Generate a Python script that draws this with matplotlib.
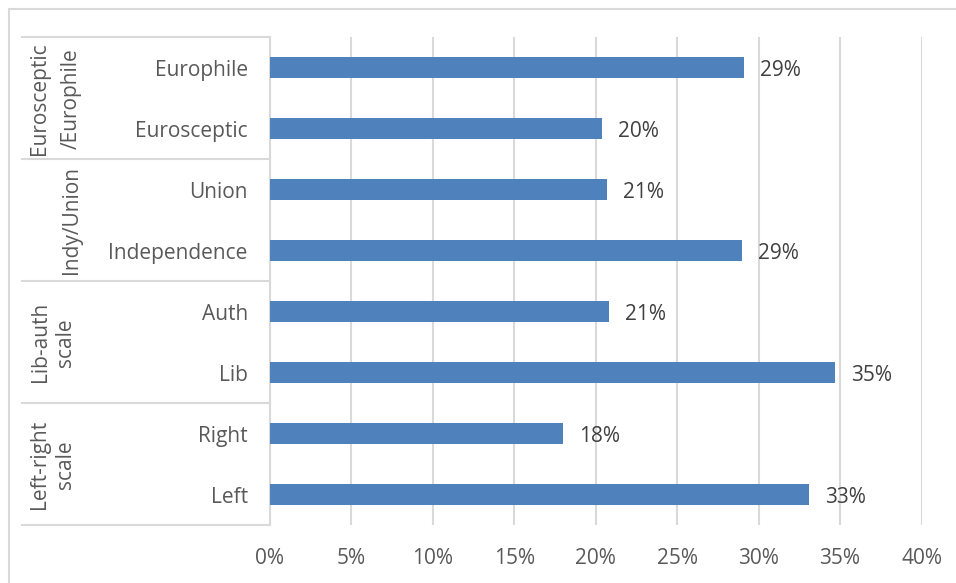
import matplotlib.pyplot as plt
from matplotlib.lines import Line2D

plt.rcParams['font.family'] = ['Open Sans', 'DejaVu Sans']

# Categories from bottom to top, with their group on the outer axis level
categories = ["Left", "Right", "Lib", "Auth", "Independence", "Union", "Eurosceptic", "Europhile"]
shares = [0.331, 0.180, 0.347, 0.208, 0.290, 0.207, 0.204, 0.291]
groups = [["Left-right", "scale"], ["Lib-auth", "scale"], ["Indy/Union"], ["Eurosceptic", "/Europhile"]]
x_ticks = [0, 0.05, 0.10, 0.15, 0.20, 0.25, 0.30, 0.35, 0.40]

W, H = 956, 583
bar_color = "#4F81BD"
grid_color = "#D9D9D9"
label_color = "#595959"
fs = 15

fig = plt.figure(figsize=(W / 100, H / 100), dpi=100)

# plot area in pixels: left, right, top, bottom
pl, pr, pt, pb = 270, 921.5, 37.3, 525.3
ax = fig.add_axes([pl / W, 1 - pb / H, (pr - pl) / W, (pb - pt) / H])

def px_x(x):
    # pixel x to axes fraction
    return (x - pl) / (pr - pl)

y = list(range(len(categories)))
ax.barh(y, shares, height=0.35, color=bar_color, zorder=3)

for yi, v in zip(y, shares):
    ax.annotate(f"{v:.0%}", (v, yi), xytext=(16, -3), textcoords="offset pixels",
                va="center", ha="left", fontsize=fs, color="#404040")

ax.set_xlim(0, 0.40)
ax.set_ylim(-0.5, len(categories) - 0.5)
ax.set_xticks(x_ticks)
ax.set_xticklabels([f"{t:.0%}" for t in x_ticks], fontsize=fs, color=label_color)
ax.set_yticks(y)
ax.set_yticklabels(categories, fontsize=fs, color=label_color)
ax.tick_params(axis="both", length=0)
ax.tick_params(axis="x", pad=16)
ax.tick_params(axis="y", pad=16)
ax.xaxis.grid(True, color=grid_color, linewidth=1.5, zorder=0)

for s in ["top", "right", "bottom"]:
    ax.spines[s].set_visible(False)
ax.spines["left"].set_color(grid_color)
ax.spines["left"].set_linewidth(1.5)

# separators and labels of the outer category level
yt = ax.get_yaxis_transform()
for k in range(len(groups) + 1):
    yb = 2 * k - 0.5
    ax.add_line(Line2D([px_x(22), 0], [yb, yb], transform=yt, color=grid_color,
                       linewidth=1.5, clip_on=False))

line_x = {1: [71], 2: [40, 65]}
for k, lines in enumerate(groups):
    yc = 2 * k + 0.5
    xs = line_x[len(lines)]
    if lines[0] == "Eurosceptic":
        xs = [39, 71]
    for xl, txt in zip(xs, lines):
        ax.text(px_x(xl), yc, txt, transform=yt, rotation=90, ha="center", va="center",
                fontsize=fs, color=label_color)

# outer chart border
fig.add_artist(Line2D([9 / W, 9 / W], [-0.05, 1 - 9 / H], transform=fig.transFigure,
                      color=grid_color, linewidth=1.5))
fig.add_artist(Line2D([9 / W, 1.05], [1 - 9 / H, 1 - 9 / H], transform=fig.transFigure,
                      color=grid_color, linewidth=1.5))

fig.savefig("out.png", dpi=100, facecolor="white")
